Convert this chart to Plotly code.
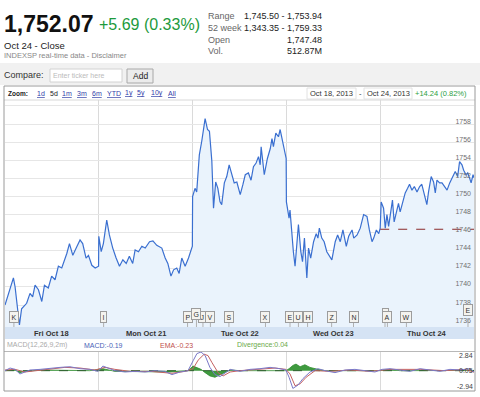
import plotly.graph_objects as go

W, H = 480, 397
def X(px): return px / W
def Y(py): return 1 - py / H

ARIAL = "Liberation Sans, Arial, sans-serif"

# ---------------- data ----------------
DAYS = ["Fri Oct 18", "Mon Oct 21", "Tue Oct 22", "Wed Oct 23", "Thu Oct 24"]
SESSION = 390  # minutes per trading session

FRI_T = [0,35,42,60,69,90,104,115,125,139,153,164,180,194,208,222,236,243,257,268,282,296,312,323,337,347,361,375,389]
FRI_P = [1738.0,1741.0,1740.0,1735.8,1737.6,1738.2,1739.3,1738.9,1740.2,1739.7,1738.4,1740.2,1739.9,1741.2,1740.8,1742.3,1742.1,1742.6,1743.7,1744.8,1743.5,1744.3,1745.2,1744.8,1743.2,1743.5,1742.4,1742.1,1742.3]
MON_T = [0,10,19,33,44,58,72,86,100,114,127,141,151,165,179,193,211,225,241,262,276,287,300,311,324,334,345,359,373,389]
MON_P = [1745.6,1743.9,1744.8,1747.4,1745.75,1744.3,1743.2,1742.3,1743.0,1742.6,1743.4,1742.6,1744.1,1743.9,1744.5,1744.3,1745.0,1745.1,1744.6,1744.3,1743.2,1742.6,1741.2,1741.9,1742.1,1741.5,1743.2,1742.3,1743.2,1744.5]
TUE_T = [0,10,17,28,38,52,62,70,80,87,96,105,114,121,132,142,152,163,173,184,198,209,219,232,243,253,264,274,281,285,298,311,323,330,336,346,357,364,374,382,389]
TUE_P = [1750.0,1750.9,1750.5,1754.6,1756.1,1758.6,1757.4,1757.2,1753.9,1748.7,1751.6,1750.9,1749.4,1749.1,1751.5,1752.2,1753.5,1752.4,1751.5,1751.6,1750.2,1751.3,1752.4,1752.6,1751.8,1753.3,1753.7,1754.4,1753.5,1755.5,1752.4,1754.2,1755.3,1756.4,1755.5,1757.0,1756.6,1757.4,1756.1,1755.0,1754.2]
WED_T = [0,11,15,22,29,36,43,50,60,67,75,85,92,101,113,124,131,137,147,157,168,182,189,203,213,224,235,249,259,273,280,294,307,321,335,345,356,363,374,384,389]
WED_P = [1749.4,1747.6,1748.5,1745.8,1743.9,1742.3,1744.6,1746.9,1743.9,1742.8,1745.4,1741.0,1744.3,1743.2,1745.0,1745.9,1745.4,1746.5,1745.4,1745.0,1743.9,1743.2,1743.0,1745.0,1745.75,1745.0,1746.3,1744.5,1745.6,1746.3,1745.4,1745.75,1746.5,1748.0,1747.8,1746.3,1745.0,1745.4,1746.3,1745.9,1746.4]
THU_T = [0,4,14,21,28,35,44,51,58,67,76,83,94,104,114,122,132,142,153,164,173,183,194,201,212,222,229,236,247,257,266,278,289,298,312,322,330,340,347,357,364,372,378,386,390]
THU_P = [1746.5,1749.4,1748.7,1746.5,1748.0,1746.7,1748.5,1749.6,1747.2,1748.3,1749.25,1748.3,1749.4,1750.4,1750.9,1751.35,1750.7,1751.1,1750.5,1751.1,1751.35,1750.2,1749.1,1750.5,1752.2,1751.6,1750.4,1751.8,1751.5,1751.5,1751.1,1750.7,1751.5,1752.0,1752.75,1752.2,1753.85,1753.5,1752.9,1752.4,1752.6,1752.0,1751.5,1752.4,1752.07]

PREV_CLOSE = 1746.38
Y_TICKS = [1736,1738,1740,1742,1744,1746,1748,1750,1752,1754,1756,1758,1760]

# MACD panel (global minutes from Fri open)
MACD_T = [0,21,42,62,83,104,146,187,229,270,312,353,387,407,428,457,499,541,582,624,665,694,728,761,782,798,815,832,852,873,894,915,936,977,1019,1060,1102,1143,1168,1181,1197,1218,1239,1268,1301,1331,1372,1414,1455,1497,1538,1568,1601,1642,1684,1726,1767,1809,1850,1892,1933,1950]
MACD_V = [0.0,0.4,0.2,-0.5,-0.2,0.1,0.2,0.4,0.5,0.6,0.3,0.2,-0.1,0.7,0.4,0.0,-0.2,-0.1,-0.2,0.0,-0.1,-0.6,-0.2,0.0,1.5,2.6,2.84,2.3,0.5,-0.6,-0.9,-0.3,0.2,-0.1,0.2,0.3,0.5,0.3,0.1,-1.0,-2.7,-2.2,-1.2,-0.2,0.3,0.0,-0.3,0.1,0.2,0.0,-0.2,0.2,0.3,0.1,-0.1,0.3,0.1,-0.1,0.2,0.1,0.3,-0.19]
EMA_T = [0,42,83,125,187,249,312,374,416,457,520,603,694,749,782,803,828,844,861,886,907,936,977,1060,1123,1168,1185,1206,1227,1252,1289,1351,1435,1518,1601,1726,1830,1913,1950]
EMA_V = [0.1,0.2,-0.2,0.0,0.3,0.5,0.4,0.1,0.5,0.2,-0.1,-0.1,-0.4,-0.1,0.3,1.6,2.5,2.3,1.2,-0.3,-0.8,-0.2,0.0,0.2,0.4,0.2,-0.5,-2.3,-2.0,-1.0,0.0,-0.1,0.1,-0.1,0.2,0.2,0.0,0.2,-0.23]
DIV_T = [0,42,62,83,146,229,353,407,457,686,761,782,798,815,832,852,873,894,915,936,977,1168,1181,1197,1210,1227,1247,1268,1301,1331,1559,1601,1642,1950]
DIV_V = [0,0.1,-0.3,-0.1,0.1,0.1,0,0.3,-0.1,-0.2,0,0.7,0.5,0.2,-0.3,-0.8,-1.0,-0.6,-0.2,0.1,0,0,0.3,0.8,1.0,0.6,0.9,0.5,0.2,0,0,0.2,0,0.04]
MACD_LABELS = [2.84, 0.05, -2.94]

FLAG_LABELS = ["K","I","J","P","V","G","S","X","E","U","H","Z","N","","A","W","E"]
FLAG_TIMES  = [37,410,823,759,854,796,931,1083,1185,1220,1258,1358,1449,1580,1590,1669,1925]

# --------------- build ---------------
times, prices = [], []
for d, (T, P) in enumerate([(FRI_T, FRI_P), (MON_T, MON_P), (TUE_T, TUE_P), (WED_T, WED_P), (THU_T, THU_P)]):
    times += [d * SESSION + t for t in T]
    prices += P
X_END = len(DAYS) * SESSION

fig = go.Figure()
fig.add_trace(go.Scatter(x=times, y=prices, mode="lines", line=dict(color="#3a6fd0", width=1.2),
                         fill="tozeroy", fillcolor="#eaf3fc", xaxis="x", yaxis="y", hoverinfo="skip"))
fig.add_trace(go.Scatter(x=[4 * SESSION, X_END], y=[PREV_CLOSE, PREV_CLOSE], mode="lines",
                         line=dict(color="#8a2a2a", width=1, dash="dash"), xaxis="x", yaxis="y", hoverinfo="skip"))
# MACD panel
fig.add_trace(go.Scatter(x=DIV_T, y=DIV_V, mode="lines", line=dict(color="#2e8b2e", width=0.8),
                         fill="tozeroy", fillcolor="#3f9a3f", xaxis="x2", yaxis="y2", hoverinfo="skip"))
fig.add_trace(go.Scatter(x=[0, X_END], y=[0, 0], mode="lines", line=dict(color="#2f5f2f", width=1, dash="dash"),
                         xaxis="x2", yaxis="y2", hoverinfo="skip"))
fig.add_trace(go.Scatter(x=EMA_T, y=EMA_V, mode="lines", line=dict(color="#c46060", width=1),
                         xaxis="x2", yaxis="y2", hoverinfo="skip"))
fig.add_trace(go.Scatter(x=MACD_T, y=MACD_V, mode="lines", line=dict(color="#7a78c8", width=1),
                         xaxis="x2", yaxis="y2", hoverinfo="skip"))

day_bounds = [d * SESSION for d in range(1, len(DAYS))]
fig.update_layout(
    width=W, height=H, margin=dict(l=0, r=0, t=0, b=0),
    paper_bgcolor="white", plot_bgcolor="white", showlegend=False,
    xaxis=dict(domain=[X(5), X(474)], range=[0, X_END], tickvals=day_bounds, showticklabels=False,
               showgrid=True, gridcolor="#dadada", gridwidth=1, zeroline=False, showline=False,
               ticks="", anchor="y", fixedrange=True),
    yaxis=dict(domain=[Y(327), Y(100)], range=[1735.58, 1760.66], side="right", tickvals=Y_TICKS,
               ticklabelposition="inside", ticklabelshift=-3, ticks="",
               tickfont=dict(size=7, color="#707070", family=ARIAL),
               showgrid=True, gridcolor="#e6e6e6", zeroline=False, showline=False, anchor="x", fixedrange=True),
    xaxis2=dict(domain=[X(5), X(474)], range=[0, X_END], tickvals=day_bounds, showticklabels=False,
                showgrid=True, gridcolor="#dadada", zeroline=False, showline=False, ticks="",
                anchor="y2", fixedrange=True),
    yaxis2=dict(domain=[Y(390), Y(352)], range=[-2.94, 2.84], showticklabels=False, showgrid=False,
                zeroline=False, showline=False, anchor="x2", fixedrange=True),
)

shapes = []
def rect(x0, y0, x1, y1, fill=None, line=None, lw=1, layer="below"):
    shapes.append(dict(type="rect", xref="paper", yref="paper", x0=X(x0), x1=X(x1), y0=Y(y1), y1=Y(y0),
                       fillcolor=fill or "rgba(0,0,0,0)", line=dict(color=line or "rgba(0,0,0,0)", width=lw if line else 0),
                       layer=layer))
def hline(x0, x1, py, color, lw=1, layer="above"):
    shapes.append(dict(type="line", xref="paper", yref="paper", x0=X(x0), x1=X(x1), y0=Y(py), y1=Y(py),
                       line=dict(color=color, width=lw), layer=layer))

rect(0, 63, 480, 85, fill="#f1f1f1")
rect(50, 69, 122, 82, fill="white", line="#d2d2d2")
rect(127, 69, 153, 83, fill="#ececec", line="#a8a8a8")
rect(307, 88, 356, 99, line="#e2e2e2", layer="above")
rect(364, 88, 412, 99, line="#e2e2e2", layer="above")
rect(5, 327, 474, 339, fill="#d5e3f4", layer="above")
hline(4, 475, 100, "#d8d8d8")
hline(4, 475, 351.5, "#b8b8b8")
rect(4, 86, 475, 391, line="#9a9a9a", layer="above")
# flag stems
for lab, t in zip(FLAG_LABELS, FLAG_TIMES):
    shapes.append(dict(type="line", xref="x", yref="paper", x0=t, x1=t, y0=Y(327), y1=Y(318),
                       line=dict(color="#b0b0b0", width=1), layer="above"))
fig.update_layout(shapes=shapes)

def txt(s, px, py, size, color, anchor="left", bold=False, family=ARIAL):
    if bold:
        s = "<b>" + s + "</b>"
    fig.add_annotation(text=s, x=X(px), y=Y(py), xref="paper", yref="paper", xanchor=anchor, yanchor="middle",
                       showarrow=False, font=dict(size=size, color=color, family=family), borderpad=0, borderwidth=0)

# header
txt("1,752.07", 4, 24, 23, "#111", bold=True)
txt("+5.69 (0.33%)", 99, 25, 16, "#1d9a3c")
txt("Oct 24 - Close", 4, 46, 9.5, "#222")
txt("INDEXSP real-time data - Disclaimer", 4, 56, 7.5, "#888")
txt("Range", 208, 16, 9, "#666")
txt("1,745.50 - 1,753.94", 322, 16, 9, "#222", anchor="right")
txt("52 week", 208, 28, 9, "#666")
txt("1,343.35 - 1,759.33", 322, 28, 9, "#222", anchor="right")
txt("Open", 208, 39.5, 9, "#666")
txt("1,747.48", 322, 39.5, 9, "#222", anchor="right")
txt("Vol.", 208, 51, 9, "#666")
txt("512.87M", 322, 51, 9, "#222", anchor="right")
# compare row
txt("Compare:", 4, 75.5, 9, "#333")
txt("Enter ticker here", 53, 75.5, 7, "#bbbbbb")
txt("Add", 140, 76, 8.5, "#222", anchor="center")
# zoom row
txt("Zoom:", 8, 93.5, 6.5, "#222", bold=True)
zoom_items = [("1d", 36.5), ("5d", 50), ("1m", 62), ("3m", 76.5), ("6m", 91.5), ("YTD", 106.5),
              ("1y", 124.5), ("5y", 136.5), ("10y", 150.5), ("All", 168)]
for lab, px in zoom_items:
    if lab == "5d":
        txt(lab, px, 93.5, 7, "#222")
    else:
        txt("<u>" + lab + "</u>", px, 93.5, 7, "#3340a8")
txt("Oct 18, 2013", 310, 93.5, 7.5, "#333")
txt("-", 359, 93.5, 7.5, "#333")
txt("Oct 24, 2013", 366.5, 93.5, 7.5, "#333")
txt("+14.24 (0.82%)", 415, 93.5, 7.5, "#2ca042")

# date band labels
for d, lab in enumerate(DAYS):
    fig.add_annotation(text="<b>" + lab + "</b>", x=d * SESSION + SESSION / 2, y=Y(333.5), xref="x", yref="paper",
                       xanchor="center", yanchor="middle", showarrow=False,
                       font=dict(size=7.5, color="#333", family=ARIAL), borderpad=0, borderwidth=0)

# MACD header
txt("MACD(12,26,9,2m)", 7, 345, 7, "#aaaaaa")
txt("MACD:-0.19", 84, 345, 7, "#4a63b8")
txt("EMA:-0.23", 160, 345, 7, "#c0504d")
txt("Divergence:0.04", 237, 345, 7, "#6aaa4a")

# MACD scale labels
for v, ya in zip(MACD_LABELS, ["top", "middle", "bottom"]):
    fig.add_annotation(text="%.2f" % v, x=X(472.5), y=v, xref="paper", yref="y2", xanchor="right", yanchor=ya,
                       showarrow=False, font=dict(size=7, color="#444", family=ARIAL), borderpad=0, borderwidth=0,
                       bgcolor="rgba(255,255,255,0)")

# event flags
raised = {"G", ""}
for lab, t in zip(FLAG_LABELS, FLAG_TIMES):
    py = 314 if lab in raised else 317.3
    if lab == "E" and t > 1800:
        py = 309.5
    fig.add_annotation(text=lab if lab else "&nbsp;", x=t, y=Y(py), xref="x", yref="paper", xanchor="center",
                       yanchor="middle", showarrow=False, font=dict(size=7, color="#333", family=ARIAL),
                       bgcolor="#f4f3ef", bordercolor="#9c9c9c", borderwidth=1, borderpad=1.5)

fig.write_html("out.html", config={"displayModeBar": False},
               post_script="document.body.style.margin='0px';")
